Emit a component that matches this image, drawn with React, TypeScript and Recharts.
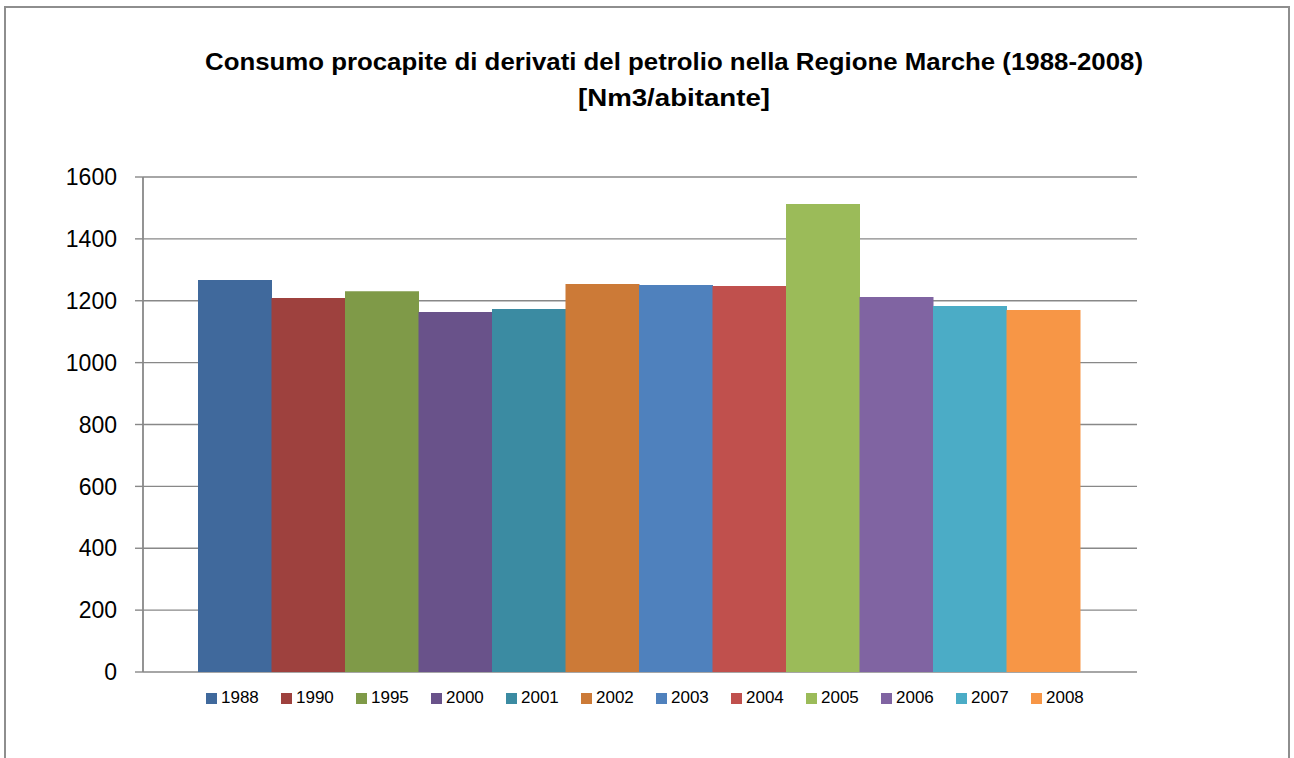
import React from "react";
import { BarChart, Bar, XAxis, YAxis, CartesianGrid, Legend } from "recharts";

const years: string[] = ["1988", "1990", "1995", "2000", "2001", "2002", "2003", "2004", "2005", "2006", "2007", "2008"];
const values: number[] = [1267, 1209, 1231, 1164, 1173, 1254, 1251, 1248, 1513, 1212, 1183, 1170];
const colors: string[] = ["#40699C", "#9E413E", "#7F9A48", "#69528A", "#3B8BA2", "#CC7A37", "#4F81BD", "#C0504D", "#9BBB59", "#8064A2", "#4BACC6", "#F79646"];
const yTicks: number[] = [0, 200, 400, 600, 800, 1000, 1200, 1400, 1600];
const titleLine1 = "Consumo procapite di derivati del petrolio nella Regione Marche (1988-2008)";
const titleLine2 = "[Nm3/abitante]";

const row: Record<string, number | string> = { name: "" };
years.forEach((y, i) => {
  row["y" + y] = values[i];
});
const data = [row];

const FONT = "'Liberation Sans', Arial, sans-serif";

const renderLegend = (props: any) => {
  const payload = props.payload || [];
  return (
    <div style={{ position: "relative", width: 1294, height: 24 }}>
      {payload.map((entry: any, i: number) => (
        <div
          key={i}
          style={{
            position: "absolute",
            left: 206 + 75 * i,
            top: 1,
            display: "flex",
            alignItems: "center",
            fontFamily: FONT,
            fontSize: 17,
            color: "#000",
            whiteSpace: "nowrap",
          }}
        >
          <span style={{ display: "inline-block", width: 11, height: 11, background: entry.color, marginRight: 4 }} />
          <span>{entry.value}</span>
        </div>
      ))}
    </div>
  );
};

export default function App() {
  return (
    <div style={{ position: "absolute", left: 0, top: 0, width: 1294, height: 758, background: "#fff", overflow: "hidden" }}>
      <div style={{ position: "absolute", left: 0, top: 0 }}>
        <BarChart
          width={1294}
          height={758}
          data={data}
          margin={{ top: 177, right: 157, bottom: 86, left: 0 }}
          barCategoryGap={55}
          barGap={-0.5}
        >
          <CartesianGrid vertical={false} stroke="#888" strokeWidth={1.4} />
          <XAxis dataKey="name" height={0} tick={false} tickLine={false} axisLine={{ stroke: "#888", strokeWidth: 1.6 }} />
          <YAxis
            width={143}
            domain={[0, 1600]}
            ticks={yTicks}
            interval={0}
            tickSize={8}
            tickMargin={18}
            tickLine={{ stroke: "#888", strokeWidth: 1.4 }}
            axisLine={{ stroke: "#888", strokeWidth: 1.8 }}
            tick={{ fill: "#000", fontSize: 23, fontFamily: FONT }}
          />
          <Legend
            layout="horizontal"
            verticalAlign="middle"
            align="center"
            content={renderLegend}
            wrapperStyle={{ top: 687, left: 0, width: 1294 }}
          />
          {years.map((y, i) => (
            <Bar key={y} dataKey={"y" + y} name={y} fill={colors[i]} isAnimationActive={false} />
          ))}
        </BarChart>
      </div>
      <svg width={1294} height={758} style={{ position: "absolute", left: 0, top: 0, pointerEvents: "none" }}>
        <rect x={5} y={7} width={1284} height={800} fill="none" stroke="#8e8e8e" strokeWidth={2} />
        <text
          x={674}
          y={70}
          textAnchor="middle"
          fontFamily={FONT}
          fontWeight="bold"
          fontSize={24}
          textLength={938}
          lengthAdjust="spacingAndGlyphs"
          fill="#000"
        >
          {titleLine1}
        </text>
        <text
          x={674}
          y={106}
          textAnchor="middle"
          fontFamily={FONT}
          fontWeight="bold"
          fontSize={24}
          textLength={192}
          lengthAdjust="spacingAndGlyphs"
          fill="#000"
        >
          {titleLine2}
        </text>
      </svg>
    </div>
  );
}
